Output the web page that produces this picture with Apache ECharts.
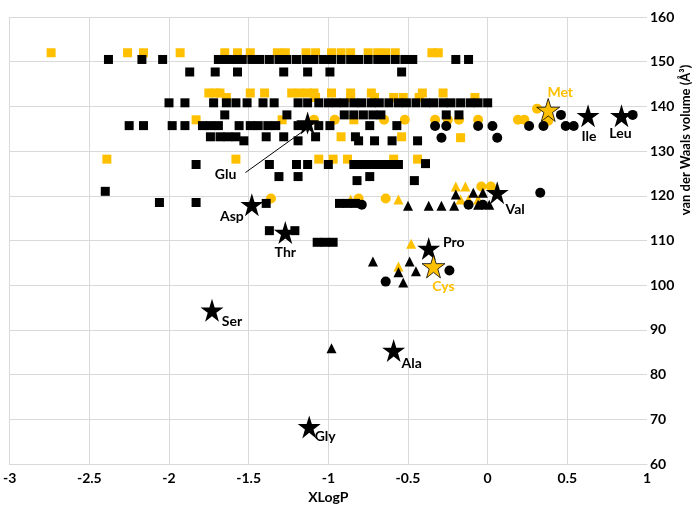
<!DOCTYPE html>
<html>
<head>
<meta charset="utf-8">
<script src="https://cdn.jsdelivr.net/npm/echarts@6/dist/echarts.min.js"></script>
<style>
  html, body { margin: 0; padding: 0; background: #fff; }
  #chart { width: 697px; height: 509px; }
</style>
</head>
<body>
<div id="chart"></div>
<script>
const GOLD = '#FFC000';
const FONT = 'Lato, "Open Sans", sans-serif';

// x ticks / y ticks
const xTicks = [-3, -2.5, -2, -1.5, -1, -0.5, 0, 0.5, 1];
const yTicks = [60, 70, 80, 90, 100, 110, 120, 130, 140, 150, 160];

// [XLogP, volume]
const blackSquares = [
  [-2.38, 150.5], [-2.17, 150.5], [-2.04, 150.5], [-1.69, 150.5], [-1.64, 150.5],
  [-1.59, 150.5], [-1.54, 150.5], [-1.48, 150.5], [-1.43, 150.5], [-1.37, 150.5],
  [-1.31, 150.5], [-1.26, 150.5], [-1.2, 150.5], [-1.14, 150.5], [-1.09, 150.5],
  [-1.03, 150.5], [-0.98, 150.5], [-0.92, 150.5], [-0.86, 150.5], [-0.81, 150.5],
  [-0.75, 150.5], [-0.69, 150.5], [-0.64, 150.5], [-0.58, 150.5], [-0.52, 150.5],
  [-0.47, 150.5], [-0.2, 150.5], [-0.12, 150.5],
  [-1.87, 147.7], [-1.71, 147.7], [-1.57, 147.7], [-1.28, 147.7], [-1.13, 147.7],
  [-0.99, 147.7], [-0.54, 147.7],
  [-2.0, 140.8], [-1.9, 140.8], [-1.72, 140.8], [-1.64, 140.8], [-1.58, 140.8],
  [-1.51, 140.8], [-1.41, 140.8], [-1.34, 140.8], [-1.19, 140.8], [-1.13, 140.8],
  [-1.06, 140.8], [-1.0, 140.8], [-0.95, 140.8], [-0.9, 140.8], [-0.84, 140.8],
  [-0.79, 140.8], [-0.73, 140.8], [-0.68, 140.8], [-0.62, 140.8], [-0.56, 140.8],
  [-0.51, 140.8], [-0.45, 140.8], [-0.39, 140.8], [-0.34, 140.8], [-0.28, 140.8],
  [-0.23, 140.8], [-0.17, 140.8], [-0.11, 140.8], [-0.06, 140.8], [0.0, 140.8],
  [-1.65, 138.1], [-1.26, 138.1], [-0.9, 138.1], [-0.84, 138.1], [-0.78, 138.1],
  [-0.72, 138.1], [-0.67, 138.1], [-0.26, 138.1], [-0.18, 138.1],
  [-2.25, 135.7], [-2.16, 135.7], [-1.98, 135.7], [-1.9, 135.7], [-1.79, 135.7],
  [-1.74, 135.7], [-1.69, 135.7], [-1.56, 135.7], [-1.49, 135.7], [-1.44, 135.7],
  [-1.38, 135.7], [-1.33, 135.7], [-1.19, 135.7], [-1.14, 135.7], [-1.06, 135.7],
  [-0.99, 135.7], [-0.74, 135.7], [-0.57, 135.7],
  [-1.74, 133.2], [-1.68, 133.2], [-1.63, 133.2], [-1.58, 133.2], [-1.39, 133.2],
  [-1.28, 133.2], [-1.08, 133.2], [-0.83, 133.2],
  [-1.53, 132.3], [-1.19, 132.3], [-0.81, 132.3], [-0.71, 132.3], [-0.6, 132.3],
  [-0.44, 132.3],
  [-1.83, 127.0], [-1.37, 127.0], [-1.2, 127.0], [-1.13, 127.0], [-1.0, 127.0],
  [-0.84, 127.0], [-0.79, 127.0], [-0.74, 127.0], [-0.69, 127.0], [-0.64, 127.0],
  [-0.59, 127.0], [-0.56, 127.0], [-0.39, 127.2],
  [-1.31, 124.3], [-1.19, 124.3], [-0.74, 124.3], [-0.82, 123.4], [-0.46, 123.4],
  [-2.4, 121.0], [-2.06, 118.5], [-1.83, 118.5], [-1.39, 118.3],
  [-0.93, 118.3], [-0.88, 118.3], [-0.83, 118.3],
  [-1.37, 112.2], [-1.21, 112.2], [-1.07, 109.6], [-1.02, 109.6], [-0.97, 109.6]
];

const goldSquares = [
  [-2.74, 152.0], [-2.26, 152.0], [-2.16, 152.0], [-1.93, 152.0], [-1.65, 152.0],
  [-1.57, 152.0], [-1.49, 152.0], [-1.32, 152.0], [-1.27, 152.0], [-1.14, 152.0],
  [-1.08, 152.0], [-0.98, 152.0], [-0.92, 152.0], [-0.86, 152.0], [-0.75, 152.0],
  [-0.69, 152.0], [-0.64, 152.0], [-0.58, 152.0], [-0.35, 152.0], [-0.31, 152.0],
  [-1.75, 143.0], [-1.71, 143.0], [-1.68, 143.0], [-1.49, 143.0], [-1.4, 143.0],
  [-1.23, 143.0], [-1.18, 143.0], [-1.13, 143.0], [-1.09, 143.0], [-0.98, 143.0],
  [-0.86, 143.0], [-0.73, 143.0], [-0.41, 143.0], [-0.28, 143.0],
  [-1.64, 142.0], [-1.08, 142.0], [-0.86, 142.0], [-0.71, 142.0], [-0.59, 142.0],
  [-0.53, 142.0], [-0.43, 142.0], [-0.08, 142.0],
  [-1.83, 137.0], [-1.29, 137.0], [-0.84, 137.0],
  [-0.92, 133.2], [-0.54, 133.2], [-0.17, 133.0],
  [-2.39, 128.2], [-1.58, 128.2], [-1.06, 128.2], [-0.97, 128.2], [-0.88, 128.2],
  [-0.59, 128.2], [-0.44, 128.2]
];

const blackCircles = [
  [-0.33, 135.6], [-0.26, 135.6], [-0.06, 135.6], [0.03, 135.6], [0.26, 135.6],
  [0.35, 135.6], [0.49, 135.6], [0.54, 135.6], [0.46, 138.1], [0.91, 138.1],
  [-0.29, 133.0], [0.06, 133.0], [-0.79, 118.0], [-0.12, 118.0], [-0.03, 118.0],
  [0.33, 120.7], [-0.24, 103.3], [-0.64, 100.8]
];

const goldCircles = [
  [-1.09, 137.0], [-0.96, 137.0], [-0.65, 137.0], [-0.52, 137.0], [-0.33, 137.0],
  [-0.25, 137.0], [-0.18, 137.0], [-0.06, 137.0], [0.19, 137.0], [0.23, 137.0],
  [0.38, 136.8], [0.31, 139.5],
  [-1.36, 119.4], [-0.81, 119.4], [-0.64, 119.4], [-0.04, 122.1], [0.02, 122.1]
];

const blackTriangles = [
  [-0.5, 117.8], [-0.37, 117.8], [-0.29, 117.8], [-0.21, 117.8], [-0.06, 118.0],
  [0.01, 118.0], [-0.2, 120.3], [-0.09, 120.7], [-0.03, 120.7],
  [-0.72, 105.3], [-0.49, 105.3], [-0.56, 102.9], [-0.45, 103.1], [-0.53, 100.6],
  [-0.98, 85.9]
];

const goldTriangles = [
  [-0.86, 119.2], [-0.56, 119.2], [-0.2, 122.1], [-0.14, 122.1],
  [-0.17, 119.2], [-0.12, 119.2], [-0.06, 119.2],
  [-0.48, 109.3], [-0.56, 104.2]
];

// labelled amino acids
const aaNames = ['Gly', 'Ala', 'Ser', 'Pro', 'Cys', 'Thr', 'Asp', 'Val', 'Glu', 'Met', 'Ile', 'Leu'];
const aaXLogP = [-1.12, -0.59, -1.73, -0.37, -0.34, -1.27, -1.48, 0.06, -1.13, 0.38, 0.63, 0.84];
const aaVolume = [68.3, 85.4, 94.4, 108.2, 104.2, 111.8, 118.0, 120.7, 136.3, 139.2, 137.9, 137.9];
const goldAA = ['Met', 'Cys'];

const labelOffset = {
  Gly: [16, 10], Ala: [18, 13], Ser: [20, 11], Pro: [25, -6], Cys: [10, 20], Thr: [0, 20],
  Asp: [-20, 12], Val: [18, 17], Glu: [-82, 52], Met: [12, -17], Ile: [1, 21], Leu: [-1, 18]
};

const STAR = 'path://M50,0 L61,36 L98,36 L68,58 L79,95 L50,72 L21,95 L32,58 L2,36 L39,36 Z';

const starData = aaNames.map((n, i) => {
  const gold = goldAA.includes(n);
  return {
    name: n,
    value: [aaXLogP[i], aaVolume[i]],
    itemStyle: gold ? { color: GOLD, borderColor: '#000', borderWidth: 0.8, opacity: 1 } : { color: '#000', opacity: 1 },
    label: { offset: labelOffset[n], color: gold ? GOLD : '#000' }
  };
});

const gluIdx = aaNames.indexOf('Glu');

const chart = echarts.init(document.getElementById('chart'));

const sq = (data, color) => ({
  type: 'scatter', data, symbol: 'rect', symbolSize: 9,
  itemStyle: { color, opacity: 1 }, z: color === GOLD ? 2 : 3
});

chart.setOption({
  animation: false,
  grid: { left: 7, right: 50, top: 17, bottom: 44, containLabel: false },
  xAxis: {
    type: 'value', min: xTicks[0], max: xTicks[xTicks.length - 1], interval: 0.5,
    name: 'XLogP', nameLocation: 'middle', nameGap: 26,
    nameTextStyle: { fontFamily: FONT, fontWeight: 'bold', fontSize: 14, color: '#000' },
    axisLine: { show: true, lineStyle: { color: '#d9d9d9', width: 1 } },
    axisTick: { show: false },
    axisLabel: { fontFamily: FONT, fontWeight: 'bold', fontSize: 14, color: '#000', margin: 7, showMinLabel: true, showMaxLabel: true },
    splitLine: { show: true, showMaxLine: false, lineStyle: { color: '#d9d9d9', width: 1 } }
  },
  yAxis: {
    type: 'value', position: 'right', min: yTicks[0], max: yTicks[yTicks.length - 1], interval: 10,
    axisLine: { show: false }, axisTick: { show: false },
    axisLabel: { fontFamily: FONT, fontWeight: 'bold', fontSize: 14, color: '#000', margin: 3 },
    splitLine: { show: true, lineStyle: { color: '#d9d9d9', width: 1 } }
  },
  graphic: [{
    type: 'text', x: 686, y: 140, rotation: Math.PI / 2,
    style: {
      text: 'van der Waals volume (Å³)', fill: '#000',
      font: 'bold 13px ' + FONT, textAlign: 'center', textVerticalAlign: 'middle'
    }
  }],
  series: [
    sq(goldSquares, GOLD),
    sq(blackSquares, '#000'),
    { type: 'scatter', data: goldCircles, symbol: 'circle', symbolSize: 10, itemStyle: { color: GOLD, opacity: 1 }, z: 2 },
    { type: 'scatter', data: blackCircles, symbol: 'circle', symbolSize: 10, itemStyle: { color: '#000', opacity: 1 }, z: 3 },
    { type: 'scatter', data: goldTriangles, symbol: 'triangle', symbolSize: 10, itemStyle: { color: GOLD, opacity: 1 }, z: 2 },
    { type: 'scatter', data: blackTriangles, symbol: 'triangle', symbolSize: 10, itemStyle: { color: '#000', opacity: 1 }, z: 3 },
    {
      type: 'scatter', data: starData, symbol: STAR, symbolSize: 23, z: 5,
      itemStyle: { opacity: 1 },
      label: {
        show: true, position: 'inside', formatter: '{b}',
        fontFamily: FONT, fontWeight: 'bold', fontSize: 14
      },
      markLine: {
        silent: true, symbol: ['none', 'arrow'], symbolSize: 8,
        lineStyle: { color: '#000', width: 1, type: 'solid', opacity: 1 },
        label: { show: false },
        data: [[
          { coord: [-1.52, 125.2] },
          { coord: [aaXLogP[gluIdx] + 0.02, aaVolume[gluIdx] - 0.6] }
        ]]
      }
    }
  ]
});
</script>
</body>
</html>
